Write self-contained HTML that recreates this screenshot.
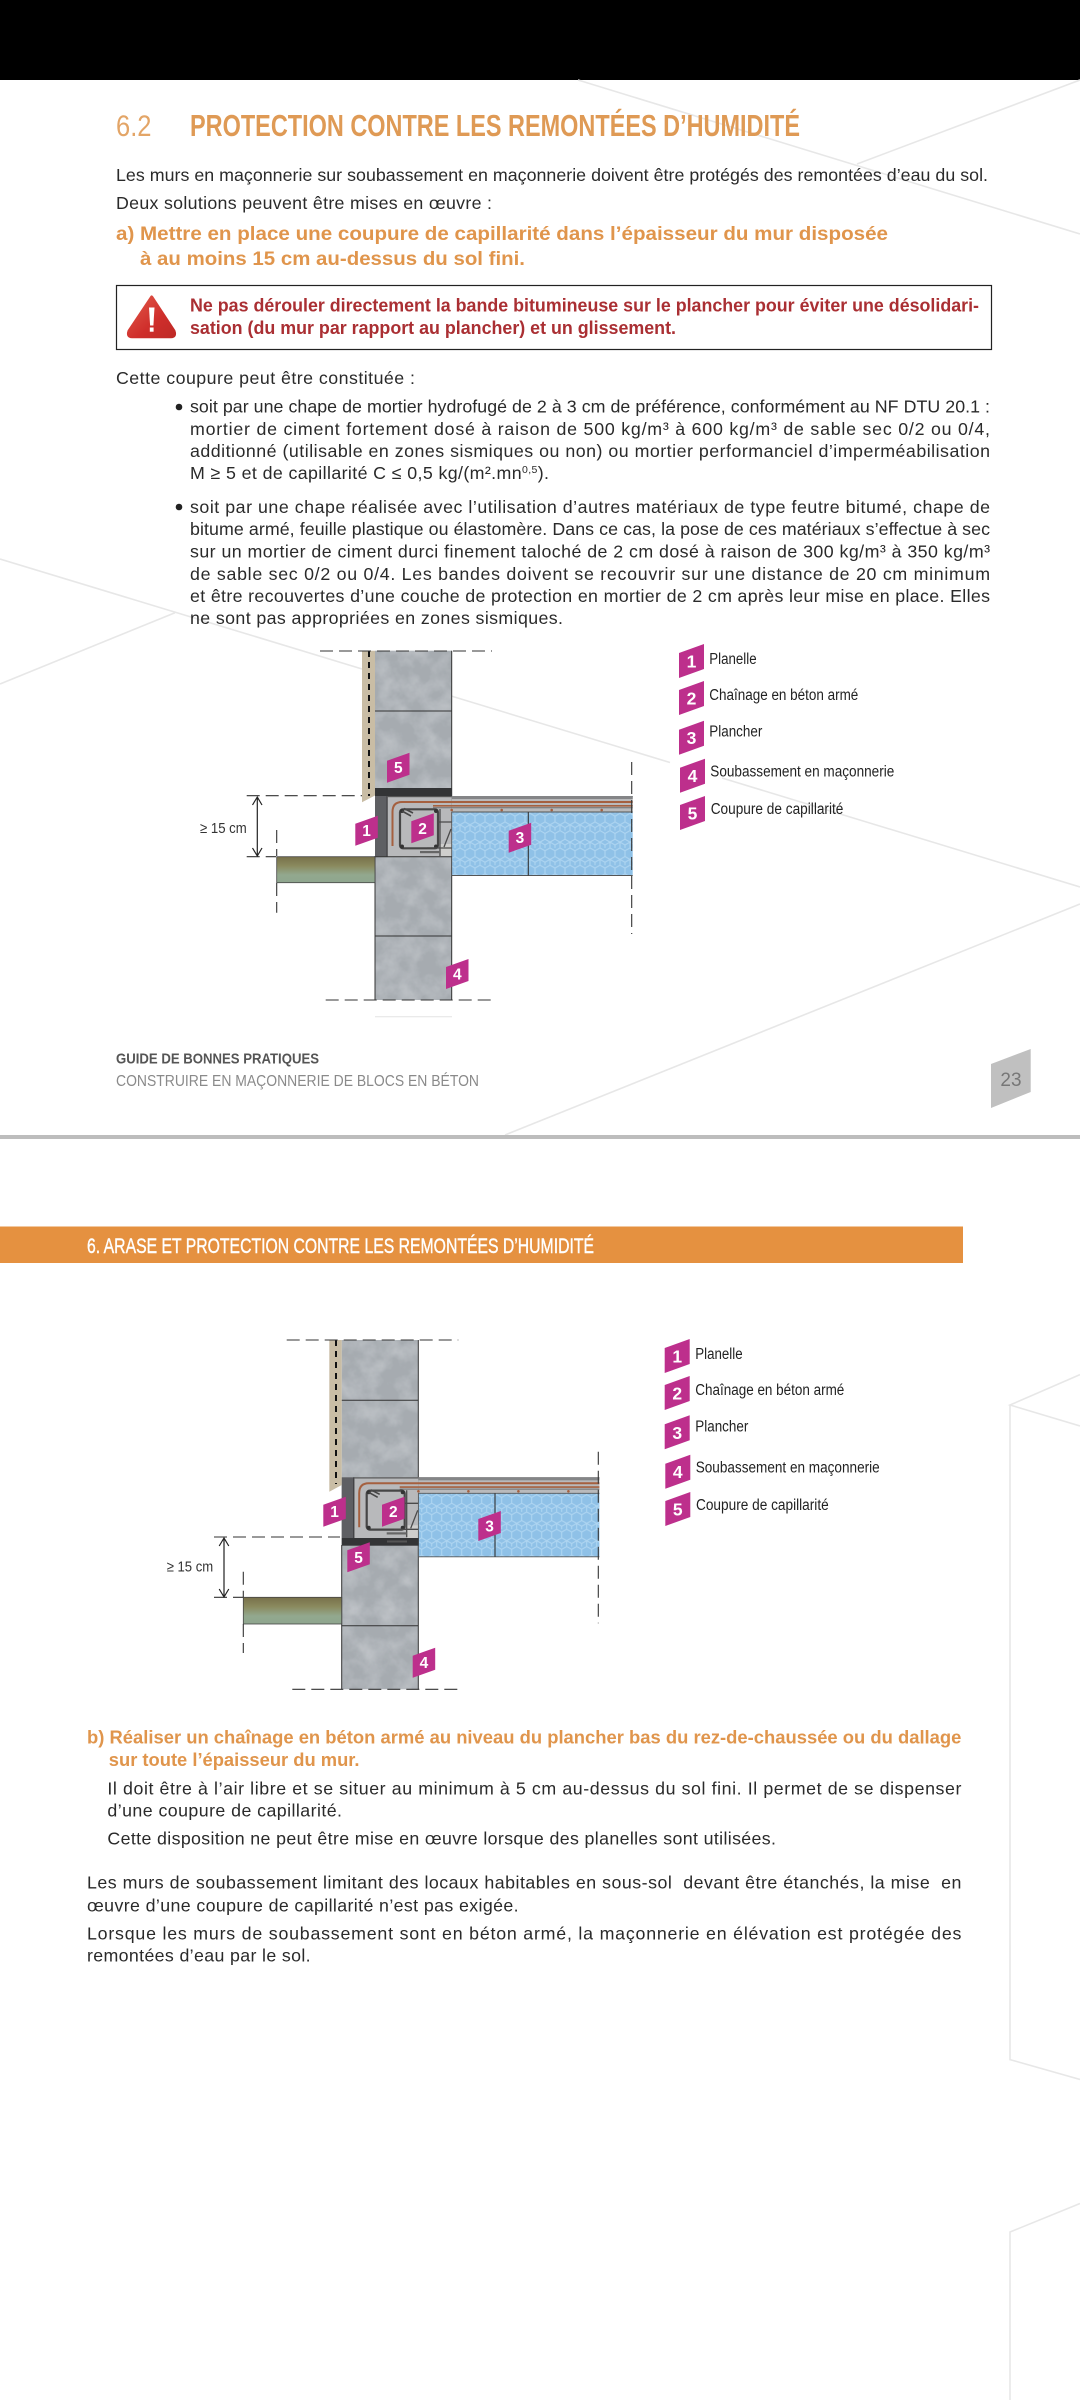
<!DOCTYPE html>
<html lang="fr"><head><meta charset="utf-8"><title>Protection contre les remontées d'humidité</title>
<style>
html,body{margin:0;padding:0;background:#fff}
svg{display:block}
text{font-family:"Liberation Sans",sans-serif}
.b{font-size:17.8px;fill:#2a2a2a}
.o{font-size:19.5px;font-weight:bold;fill:#e0954c}
.o2{font-size:18px;font-weight:bold;fill:#e0954c}
.r{font-size:18px;font-weight:bold;fill:#aa2f33}
.l{font-size:15.5px;fill:#222}
.d{font-size:15.5px;font-weight:bold;fill:#fff;text-anchor:middle}
.d2{font-size:17.5px;font-weight:bold;fill:#fff;text-anchor:middle}
.m{fill:#bd2f8c}
.bg{stroke:#e7e7e7;stroke-width:1.6;fill:none}
.dash{stroke:#333;stroke-width:1.1;fill:none;stroke-dasharray:13 6}
</style></head>
<body>
<svg xmlns="http://www.w3.org/2000/svg" width="1080" height="2400" viewBox="0 0 1080 2400">
<defs>
<filter id="conc" x="0" y="0" width="100%" height="100%">
<feTurbulence type="fractalNoise" baseFrequency="0.05" numOctaves="4" seed="7"/>
<feColorMatrix type="matrix" values="0 0 0 0 0.74  0 0 0 0 0.76  0 0 0 0 0.79  0.7 0 0 0 -0.25"/>
<feComposite in2="SourceGraphic" operator="in" result="n"/>
<feMerge><feMergeNode in="SourceGraphic"/><feMergeNode in="n"/></feMerge>
</filter>
<pattern id="hex" width="10" height="17.3" patternUnits="userSpaceOnUse">
<rect width="10" height="17.3" fill="#8fc1e7"/>
<path d="M5,0 L10,2.9 V8.65 L5,11.5 L0,8.65 V2.9 Z M5,11.5 V17.3" fill="none" stroke="#aed5f1" stroke-width="1.1"/>
<path d="M0,14.4 L5,11.5 L10,14.4 M0,14.4 V17.3 M10,14.4 V17.3" fill="none" stroke="#aed5f1" stroke-width="1.1"/>
</pattern>
<linearGradient id="gnd" x1="0" y1="0" x2="0" y2="1">
<stop offset="0" stop-color="#77704a"/><stop offset=".35" stop-color="#8a8a5e"/><stop offset=".7" stop-color="#92a88e"/><stop offset="1" stop-color="#8fa68f"/>
</linearGradient>
<linearGradient id="warn" x1="0" y1="0" x2="1" y2="1">
<stop offset="0" stop-color="#e2594a"/><stop offset=".6" stop-color="#cf2e2b"/><stop offset="1" stop-color="#bf2a26"/>
</linearGradient>
<g id="beam">
<rect x="0" y="0" width="76.7" height="60.7" fill="#b8b9bb"/>
<rect x="65" y="48" width="11.7" height="12.7" fill="#cfcfcd"/>
<rect x="0" y="0" width="12.5" height="60.7" fill="#5e5f63"/>
<rect x="11.5" y="0" width="1.2" height="60.7" fill="#3d3d40"/>
<rect x="76.7" y="0" width="181" height="16" fill="#b9babc"/>
<rect x="12" y="0" width="245.7" height="1.2" fill="#555"/>
<rect x="76.7" y="0" width="181" height="3" fill="#848587"/>
<path d="M17.5,50 V16 Q17.5,6 27,6 H257.7" fill="none" stroke="#a5603f" stroke-width="2"/>
<path d="M58,9.8 H257.7" fill="none" stroke="#a5603f" stroke-width="1.6"/>
<path d="M58,11.8 H257.7" fill="none" stroke="#6f6f6f" stroke-width="1"/>
<g fill="#a5603f"><circle cx="76.7" cy="14" r="1.3"/><circle cx="126.7" cy="14" r="1.3"/><circle cx="176.7" cy="14" r="1.3"/><circle cx="226.7" cy="14" r="1.3"/></g>
<rect x="25" y="13.3" width="38" height="39" rx="3" fill="none" stroke="#464646" stroke-width="2.2"/>
<g fill="#333"><circle cx="27" cy="15" r="2"/><circle cx="61" cy="15" r="2"/><circle cx="27" cy="50.5" r="2"/><circle cx="61" cy="50.5" r="2"/></g>
<path d="M27,15 L36,20 M29,12.5 L38,17" stroke="#464646" stroke-width="1.6" fill="none"/>
<path d="M63,26 H76.7 M76,33 L69,51 M52,52 H76.7 M65,13 V60" stroke="#4a4a4a" stroke-width="1.3" fill="none"/>
<rect x="45" y="55" width="20" height="2.2" fill="#666"/>
<rect x="76.7" y="16" width="181" height="63.5" fill="url(#hex)"/>
<path d="M76.7,16 V79.5 H257.7 M76.7,16 H257.7" stroke="#555" stroke-width=".9" fill="none"/>
<path d="M153.3,16 V79.5" stroke="#333" stroke-width="1.1"/>
</g>
</defs>

<rect width="1080" height="2400" fill="#fff"/>
<rect width="1080" height="80" fill="#000"/>

<!-- background lines page 1 -->
<path class="bg" d="M578,80 L1080,234 M1080,80 L857,164 M0,559 L670,762.5 M722,778 L1080,887 M175,612.7 L0,684 M1080,904 L505,1135"/>
<rect x="0" y="1135" width="1080" height="4" fill="#bdbdbd"/>
<!-- background lines page 2 -->
<path class="bg" d="M1080,1374.6 L1010,1405 L1080,1426 M1010,1405 V2059.6 L1080,2079.5 M1080,2203.5 L1010,2232 V2400"/>

<!-- heading -->
<text x="116" y="136" font-size="30" fill="#e3a567" textLength="35.5" lengthAdjust="spacingAndGlyphs">6.2</text>
<text x="190" y="136" font-size="30.5" font-weight="bold" fill="#df9a55" textLength="610" lengthAdjust="spacingAndGlyphs">PROTECTION CONTRE LES REMONTÉES D’HUMIDITÉ</text>

<text class="b" x="116" y="181" textLength="872" lengthAdjust="spacing">Les murs en maçonnerie sur soubassement en maçonnerie doivent être protégés des remontées d’eau du sol.</text>
<text class="b" x="116" y="209" textLength="376" lengthAdjust="spacing">Deux solutions peuvent être mises en œuvre :</text>
<text class="o" x="116" y="240" textLength="772" lengthAdjust="spacingAndGlyphs">a) Mettre en place une coupure de capillarité dans l’épaisseur du mur disposée</text>
<text class="o" x="140" y="265" textLength="385" lengthAdjust="spacingAndGlyphs">à au moins 15 cm au-dessus du sol fini.</text>

<!-- warning box -->
<rect x="116.5" y="285.5" width="875" height="64" fill="#fff" stroke="#222" stroke-width="1.2"/>
<path d="M151.7,297 L174,331 Q176,336.7 171,336.7 H132 Q127,336.7 129,331 Z" fill="url(#warn)" stroke="url(#warn)" stroke-width="3" stroke-linejoin="round"/>
<polygon points="149,307.5 154.5,307.5 153.4,325.5 150.1,325.5" fill="#fff"/>
<rect x="149.8" y="327.5" width="3.8" height="4.2" fill="#fff"/>
<text class="r" x="190" y="311.5" textLength="789" lengthAdjust="spacingAndGlyphs">Ne pas dérouler directement la bande bitumineuse sur le plancher pour éviter une désolidari-</text>
<text class="r" x="190" y="334" textLength="486" lengthAdjust="spacingAndGlyphs">sation (du mur par rapport au plancher) et un glissement.</text>

<text class="b" x="116" y="384" textLength="299" lengthAdjust="spacing">Cette coupure peut être constituée :</text>

<circle cx="179" cy="407" r="3.3" fill="#222"/>
<text class="b" x="190" y="412.6" textLength="800" lengthAdjust="spacing">soit par une chape de mortier hydrofugé de 2 à 3 cm de préférence, conformément au NF DTU 20.1 :</text>
<text class="b" x="190" y="435" textLength="800" lengthAdjust="spacing">mortier de ciment fortement dosé à raison de 500 kg/m³ à 600 kg/m³ de sable sec 0/2 ou 0/4,</text>
<text class="b" x="190" y="457" textLength="800" lengthAdjust="spacing">additionné (utilisable en zones sismiques ou non) ou mortier performanciel d’imperméabilisation</text>
<text class="b" x="190" y="479" textLength="359" lengthAdjust="spacing">M ≥ 5 et de capillarité C ≤ 0,5 kg/(m².mn<tspan dy="-6" font-size="10.5">0,5</tspan><tspan dy="6">).</tspan></text>

<circle cx="179" cy="507" r="3.3" fill="#222"/>
<text class="b" x="190" y="512.8" textLength="800" lengthAdjust="spacing">soit par une chape réalisée avec l’utilisation d’autres matériaux de type feutre bitumé, chape de</text>
<text class="b" x="190" y="535" textLength="800" lengthAdjust="spacing">bitume armé, feuille plastique ou élastomère. Dans ce cas, la pose de ces matériaux s’effectue à sec</text>
<text class="b" x="190" y="557.6" textLength="800" lengthAdjust="spacing">sur un mortier de ciment durci finement taloché de 2 cm dosé à raison de 300 kg/m³ à 350 kg/m³</text>
<text class="b" x="190" y="580" textLength="800" lengthAdjust="spacing">de sable sec 0/2 ou 0/4. Les bandes doivent se recouvrir sur une distance de 20 cm minimum</text>
<text class="b" x="190" y="602" textLength="800" lengthAdjust="spacing">et être recouvertes d’une couche de protection en mortier de 2 cm après leur mise en place. Elles</text>
<text class="b" x="190" y="624" textLength="373" lengthAdjust="spacing">ne sont pas appropriées en zones sismiques.</text>

<!-- diagram 1 -->
<path d="M375,1016.7 H452" stroke="#e4e4e4" stroke-width="1"/>
<rect x="375" y="650.7" width="76.7" height="349.3" fill="#a6abb0" filter="url(#conc)"/>
<path d="M451.7,650.7 V1000 M375,856 V1000 M375,711 H451.7 M375,936 H451.7" stroke="#333" stroke-width="1" fill="none"/>
<rect x="375" y="788" width="77" height="8" fill="#333436"/>
<use href="#beam" x="375" y="796"/>
<path d="M375,856.7 H452" stroke="#333" stroke-width="1"/>
<polygon points="362,650.7 375,650.7 375,795.5 362,802.3" fill="#c9bda5"/>
<path d="M369,651 V796" stroke="#111" stroke-width="2" stroke-dasharray="6 5"/>
<rect x="276.7" y="856.7" width="98.3" height="26" fill="url(#gnd)" stroke="#444" stroke-width=".8"/>
<path class="dash" d="M320,651 H492 M325.7,1000 H496.7 M246.7,795.7 H362 M246.7,856.7 H276 M276.7,830 V856 M276.7,883 V912.7 M631.7,762 V934"/>
<path d="M257.3,797 V856 M252.5,805 L257.3,797 L262,805 M252.5,848 L257.3,856 L262,848" stroke="#222" stroke-width="1.2" fill="none"/>
<text x="200" y="833" font-size="15" fill="#333" textLength="46.7" lengthAdjust="spacingAndGlyphs">≥ 15 cm</text>

<g transform="translate(355.3,815.7)"><polygon class="m" points="0,8 22.5,0 22.5,22 0,30"/><text class="d" x="11.25" y="20.5">1</text></g>
<g transform="translate(411.3,813.3)"><polygon class="m" points="0,8 22.5,0 22.5,22 0,30"/><text class="d" x="11.25" y="20.5">2</text></g>
<g transform="translate(508.7,822.7)"><polygon class="m" points="0,8 22.5,0 22.5,22 0,30"/><text class="d" x="11.25" y="20.5">3</text></g>
<g transform="translate(446,959)"><polygon class="m" points="0,8 22.5,0 22.5,22 0,30"/><text class="d" x="11.25" y="20.5">4</text></g>
<g transform="translate(387,752.7)"><polygon class="m" points="0,8 22.5,0 22.5,22 0,30"/><text class="d" x="11.25" y="20.5">5</text></g>

<!-- legend 1 -->
<g transform="translate(679,644)"><polygon class="m" points="0,9 25,0 25,25 0,34"/><text class="d2" x="12.5" y="23.5">1</text></g>
<g transform="translate(679,681)"><polygon class="m" points="0,9 25,0 25,25 0,34"/><text class="d2" x="12.5" y="23.5">2</text></g>
<g transform="translate(679,720.7)"><polygon class="m" points="0,9 25,0 25,25 0,34"/><text class="d2" x="12.5" y="23.5">3</text></g>
<g transform="translate(680,758.7)"><polygon class="m" points="0,9 25,0 25,25 0,34"/><text class="d2" x="12.5" y="23.5">4</text></g>
<g transform="translate(680,796)"><polygon class="m" points="0,9 25,0 25,25 0,34"/><text class="d2" x="12.5" y="23.5">5</text></g>
<text class="l" x="709.3" y="664" textLength="47.3" lengthAdjust="spacingAndGlyphs">Planelle</text>
<text class="l" x="709.3" y="700" textLength="149" lengthAdjust="spacingAndGlyphs">Chaînage en béton armé</text>
<text class="l" x="709.3" y="736.7" textLength="53" lengthAdjust="spacingAndGlyphs">Plancher</text>
<text class="l" x="710.3" y="776.7" textLength="184" lengthAdjust="spacingAndGlyphs">Soubassement en maçonnerie</text>
<text class="l" x="710.7" y="814" textLength="132.7" lengthAdjust="spacingAndGlyphs">Coupure de capillarité</text>

<!-- footer -->
<text x="116" y="1063.3" font-size="15" font-weight="bold" fill="#555" textLength="203" lengthAdjust="spacingAndGlyphs">GUIDE DE BONNES PRATIQUES</text>
<text x="116" y="1086" font-size="16" fill="#8a8a8a" textLength="363" lengthAdjust="spacingAndGlyphs">CONSTRUIRE EN MAÇONNERIE DE BLOCS EN BÉTON</text>
<polygon points="991,1064 1030.7,1049 1030.7,1092 991,1108" fill="#c0c0c0"/>
<text x="1011" y="1086" font-size="19" fill="#777" text-anchor="middle">23</text>

<!-- page 2 band -->
<rect x="0" y="1226.5" width="963" height="36.5" fill="#e59140"/>
<text x="87" y="1253" font-size="21" fill="#fff" stroke="#fff" stroke-width=".4" textLength="507" lengthAdjust="spacingAndGlyphs">6. ARASE ET PROTECTION CONTRE LES REMONTÉES D’HUMIDITÉ</text>

<!-- diagram 2 -->
<rect x="341.7" y="1340" width="76.6" height="349.3" fill="#a6abb0" filter="url(#conc)"/>
<path d="M418.3,1340 V1689.3 M341.7,1545 V1689.3 M341.7,1400.3 H418.3 M341.7,1625.7 H418.3" stroke="#333" stroke-width="1" fill="none"/>
<use href="#beam" x="341.7" y="1477.3"/>
<rect x="341.7" y="1538" width="77" height="7.7" fill="#333436"/>
<rect x="387" y="1540.5" width="20" height="2" fill="#555"/>
<polygon points="329.3,1340 341.7,1340 341.7,1485 329.3,1491.7" fill="#c9bda5"/>
<path d="M336,1340 V1484" stroke="#111" stroke-width="2" stroke-dasharray="6 5"/>
<rect x="243.3" y="1597.3" width="98.4" height="26.7" fill="url(#gnd)" stroke="#444" stroke-width=".8"/>
<path class="dash" d="M286.7,1340 H458.3 M292.3,1689.3 H463.3 M214,1537 H340 M214,1597.3 H243 M243.3,1571.7 V1597 M243.3,1624 V1653 M598.3,1451.7 V1623.3"/>
<path d="M224,1538 V1597 M219.2,1546 L224,1538 L228.8,1546 M219.2,1589 L224,1597 L228.8,1589" stroke="#222" stroke-width="1.2" fill="none"/>
<text x="166.7" y="1571.7" font-size="15" fill="#333" textLength="46.5" lengthAdjust="spacingAndGlyphs">≥ 15 cm</text>

<g transform="translate(323.3,1496.7)"><polygon class="m" points="0,8 22.5,0 22.5,22 0,30"/><text class="d" x="11.25" y="20.5">1</text></g>
<g transform="translate(382,1496.7)"><polygon class="m" points="0,8 22.5,0 22.5,22 0,30"/><text class="d" x="11.25" y="20.5">2</text></g>
<g transform="translate(478.3,1511)"><polygon class="m" points="0,8 22.5,0 22.5,22 0,30"/><text class="d" x="11.25" y="20.5">3</text></g>
<g transform="translate(412.7,1647.7)"><polygon class="m" points="0,8 22.5,0 22.5,22 0,30"/><text class="d" x="11.25" y="20.5">4</text></g>
<g transform="translate(347.3,1542.3)"><polygon class="m" points="0,8 22.5,0 22.5,22 0,30"/><text class="d" x="11.25" y="20.5">5</text></g>

<!-- legend 2 -->
<g transform="translate(664.7,1339)"><polygon class="m" points="0,9 25,0 25,25 0,34"/><text class="d2" x="12.5" y="23.5">1</text></g>
<g transform="translate(664.7,1376)"><polygon class="m" points="0,9 25,0 25,25 0,34"/><text class="d2" x="12.5" y="23.5">2</text></g>
<g transform="translate(664.7,1415.3)"><polygon class="m" points="0,9 25,0 25,25 0,34"/><text class="d2" x="12.5" y="23.5">3</text></g>
<g transform="translate(665.3,1454.7)"><polygon class="m" points="0,9 25,0 25,25 0,34"/><text class="d2" x="12.5" y="23.5">4</text></g>
<g transform="translate(665.3,1492)"><polygon class="m" points="0,9 25,0 25,25 0,34"/><text class="d2" x="12.5" y="23.5">5</text></g>
<text class="l" x="695.3" y="1359" textLength="47.3" lengthAdjust="spacingAndGlyphs">Planelle</text>
<text class="l" x="695.3" y="1395" textLength="149" lengthAdjust="spacingAndGlyphs">Chaînage en béton armé</text>
<text class="l" x="695.3" y="1431.7" textLength="53" lengthAdjust="spacingAndGlyphs">Plancher</text>
<text class="l" x="695.7" y="1472.7" textLength="184" lengthAdjust="spacingAndGlyphs">Soubassement en maçonnerie</text>
<text class="l" x="696" y="1510" textLength="132.7" lengthAdjust="spacingAndGlyphs">Coupure de capillarité</text>

<!-- page 2 text -->
<text class="o2" x="87" y="1743.3" textLength="874.4" lengthAdjust="spacingAndGlyphs">b) Réaliser un chaînage en béton armé au niveau du plancher bas du rez-de-chaussée ou du dallage</text>
<text class="o2" x="108.8" y="1766" textLength="250.7" lengthAdjust="spacingAndGlyphs">sur toute l’épaisseur du mur.</text>
<text class="b" x="107.4" y="1794.3" textLength="854" lengthAdjust="spacing">Il doit être à l’air libre et se situer au minimum à 5 cm au-dessus du sol fini. Il permet de se dispenser</text>
<text class="b" x="107.4" y="1816.7" textLength="234.6" lengthAdjust="spacing">d’une coupure de capillarité.</text>
<text class="b" x="107.4" y="1844.3" textLength="668.6" lengthAdjust="spacing">Cette disposition ne peut être mise en œuvre lorsque des planelles sont utilisées.</text>
<text class="b" x="87" y="1888.7" textLength="874.4" lengthAdjust="spacing">Les murs de soubassement limitant des locaux habitables en sous-sol&#160; devant être étanchés, la mise&#160; en</text>
<text class="b" x="87" y="1911.7" textLength="431.6" lengthAdjust="spacing">œuvre d’une coupure de capillarité n’est pas exigée.</text>
<text class="b" x="87" y="1939.3" textLength="874.4" lengthAdjust="spacing">Lorsque les murs de soubassement sont en béton armé, la maçonnerie en élévation est protégée des</text>
<text class="b" x="87" y="1961.7" textLength="223.6" lengthAdjust="spacing">remontées d’eau par le sol.</text>
</svg>
</body></html>
